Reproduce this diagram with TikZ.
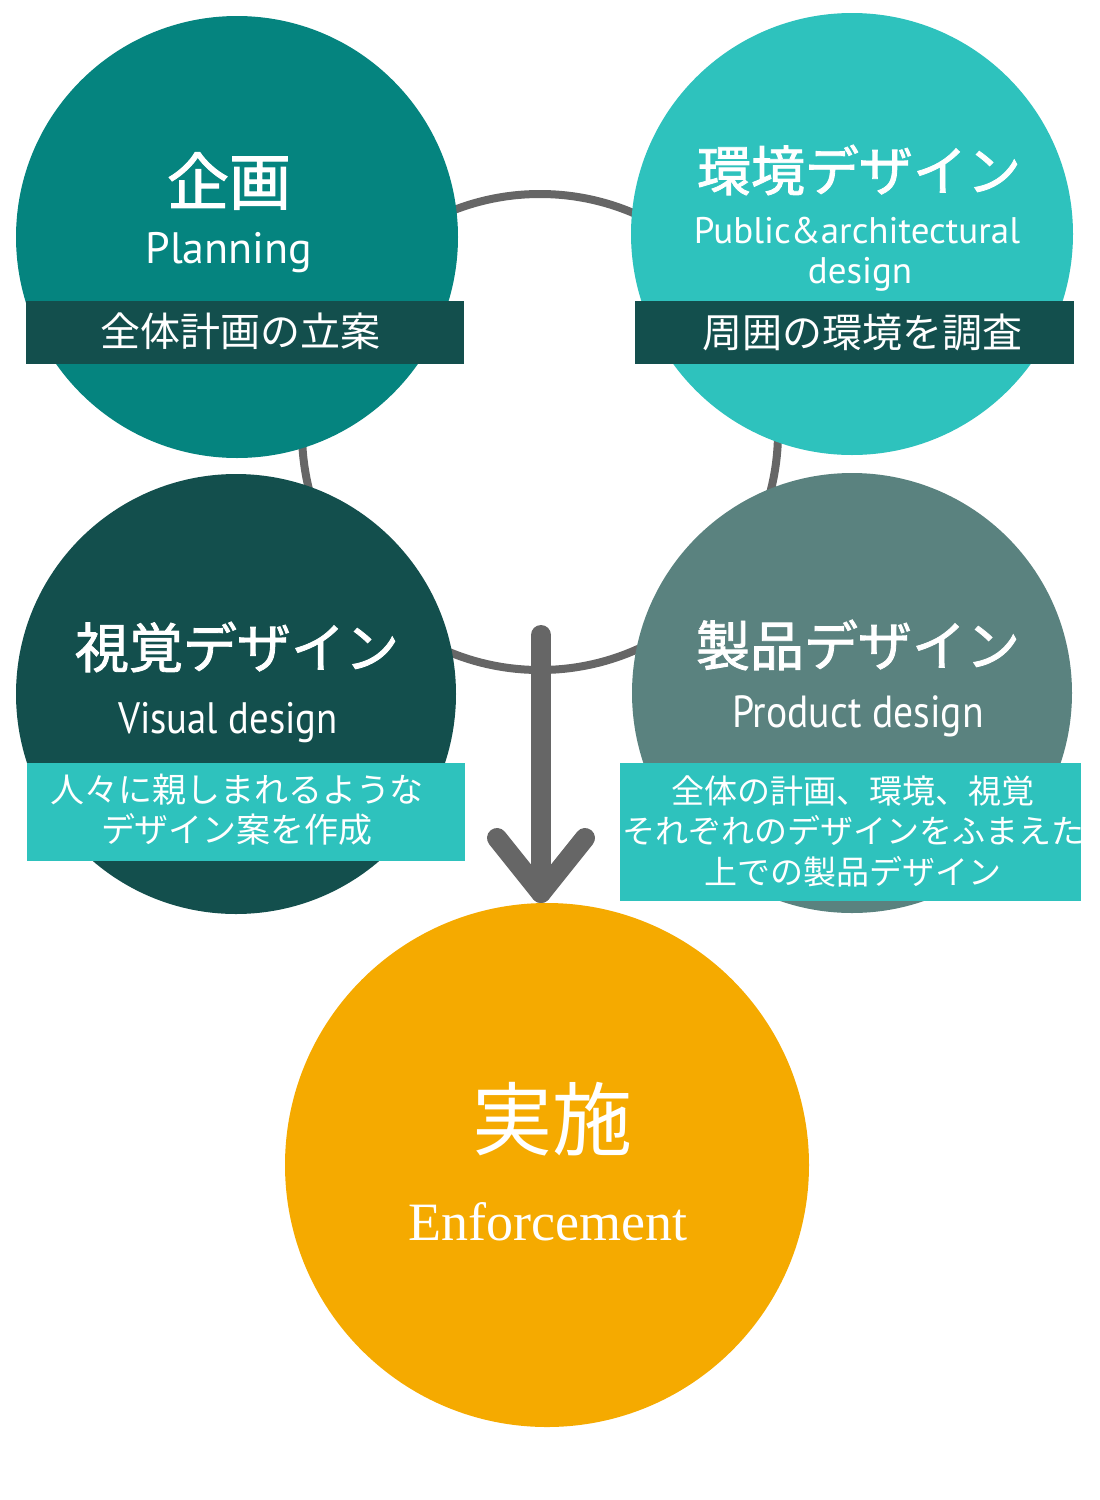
\documentclass[tikz,border=0pt]{standalone}
\usepackage{fontspec}
\newfontfamily\cjk{Noto Sans CJK JP}
\newfontfamily\cjkb{Noto Sans CJK JP}[FakeBold=1.6]
\newfontfamily\lat{PT Sans}
\newfontfamily\latc{PT Sans}[FakeStretch=0.88]
\newfontfamily\serif{Liberation Serif}
\definecolor{cplan}{HTML}{05847F}
\definecolor{cenv}{HTML}{2EC2BD}
\definecolor{cvis}{HTML}{134F4D}
\definecolor{cprod}{HTML}{5A827F}
\definecolor{cenf}{HTML}{F5AA00}
\definecolor{cgray}{HTML}{666666}
\tikzset{
  bubble/.style={circle, inner sep=0pt, minimum size=#1, draw=none},
  band/.style={rectangle, inner sep=0pt, draw=none},
  txt/.style={text=white, inner sep=0pt, align=center},
  conn/.style={draw=cgray, line width=20pt, line cap=round, line join=round},
}
\begin{document}
\begin{tikzpicture}[x=1pt, y=-1pt]
\useasboundingbox (0,0) rectangle (1100,1500);
% ring
\node[bubble=476pt, draw=cgray, line width=8pt] (ring) at (540,432) {};
% circles
\node[bubble=442pt, fill=cplan] (plan) at (237,237) {};
\node[bubble=442pt, fill=cenv] (env) at (852,234) {};
\node[bubble=440pt, fill=cvis] (vis) at (236,694) {};
\node[bubble=440pt, fill=cprod] (prod) at (852,693) {};
% bands
\node[band, minimum width=438pt, minimum height=63pt, fill=cvis] (planband) at (245,332.5) {};
\node[band, minimum width=439pt, minimum height=63pt, fill=cvis] (envband) at (854.5,332.5) {};
\node[band, minimum width=438pt, minimum height=98pt, fill=cenv] (visband) at (246,812) {};
\node[band, minimum width=461pt, minimum height=138pt, fill=cenv] (prodband) at (850.5,832) {};
% titles
\node[txt, font=\cjkb\fontsize{62}{66}\selectfont] (plantitle) at (229,181) {企画};
\node[txt, font=\lat\fontsize{44}{50}\selectfont, anchor=base] (planen) at (229,263) {Planning};
\node[txt, font=\cjk\fontsize{40}{44}\selectfont] (plantxt) at (240,331) {全体計画の立案};

\node[txt, font=\cjkb\fontsize{54}{60}\selectfont] (envtitle) at (859,170) {環境デザイン};
\node[txt, font=\lat\fontsize{37}{42}\selectfont, anchor=base] (enven) at (857,243) {Public\&architectural};
\node[txt, font=\lat\fontsize{37}{42}\selectfont, anchor=base] (enven2) at (860,283) {design};
\node[txt, font=\cjk\fontsize{40}{44}\selectfont] (envtxt) at (862,332) {周囲の環境を調査};

\node[txt, font=\cjkb\fontsize{54}{60}\selectfont] (vistitle) at (237,647) {視覚デザイン};
\node[txt, font=\latc\fontsize{44}{48}\selectfont, anchor=base] (visen) at (228,733) {Visual design};
\node[txt, font=\cjk\fontsize{34}{40}\selectfont] (vistxt) at (237,810) {人々に親しまれるような\\デザイン案を作成};

\node[txt, font=\cjkb\fontsize{54}{60}\selectfont] (prodtitle) at (858,645) {製品デザイン};
\node[txt, font=\latc\fontsize{45}{48}\selectfont, anchor=base] (proden) at (858,727) {Product design};
\node[txt, font=\cjk\fontsize{33}{40.5}\selectfont] (prodtxt) at (853,831) {全体の計画、環境、視覚\\それぞれのデザインをふまえた\\上での製品デザイン};
% arrow
\coordinate (atop) at (541,635);
\coordinate (atip) at (541,893);
\coordinate (aleft) at (497,838);
\coordinate (aright) at (585,838);
\draw[conn] (atop) -- (atip);
\draw[conn] (aleft) -- (atip) -- (aright);
% enforcement
\node[bubble=524pt, fill=cenf] (enf) at (547,1165) {};
\node[txt, font=\cjk\fontsize{80}{84}\selectfont] (enftitle) at (552,1119) {実施};
\node[txt, font=\serif\fontsize{54}{60}\selectfont, anchor=base] (enfen) at (548,1240) {Enforcement};
\end{tikzpicture}
\end{document}
